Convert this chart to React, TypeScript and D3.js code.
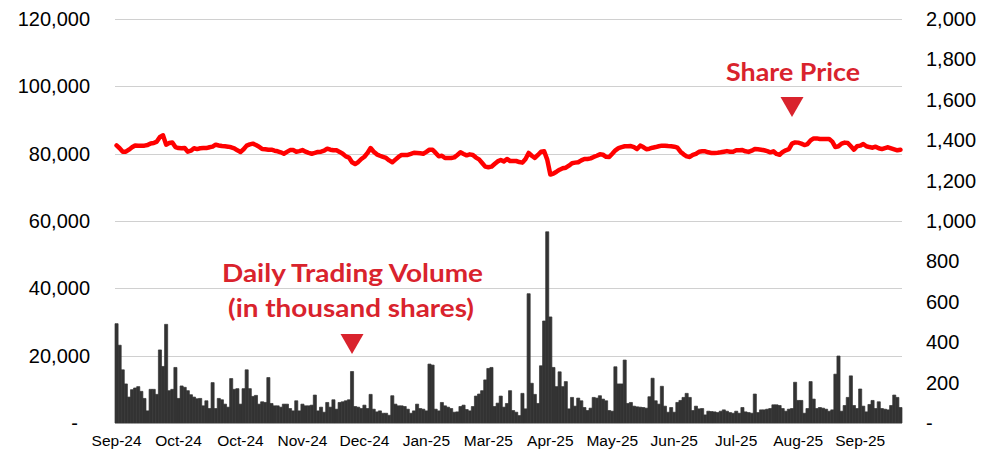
import React from "react";
import * as d3 from "d3";

// daily trading volume, thousand shares (left axis)
const volume: number[] = [
  29.5, 23.1, 15.8, 11.6, 7.7, 9.9, 10.4, 10.8, 9.4, 7.3, 3.6, 10, 10, 8.5, 21.7, 16.8, 29.3, 9.6, 10, 16.5,
  7.3, 11, 10.6, 9.6, 8.4, 7.7, 7.2, 7.3, 5.1, 6.6, 4.3, 12, 4.3, 7.3, 6.9, 5.6, 4.7, 13.2, 10, 10.2,
  5.6, 10.2, 15.8, 10.2, 7.9, 8.2, 5.6, 6.3, 6.1, 13.5, 5.8, 5.1, 5.1, 4.7, 5.6, 5.6, 4.3, 3.6, 6.6, 3.6,
  5.6, 5.1, 5.1,
  5.3, 8.3, 3.6, 4.7, 3.2, 6.1, 4.7, 6.9, 4.1, 6.1, 6.3, 6.6, 6.9, 15.3, 4.9, 4.7, 4.3, 5.3, 4.3, 8.5,
  4.1, 3.3, 3.6, 2.9, 2.9, 2.3, 8.1, 5.6, 5.1, 5.1, 4.9, 4.1, 2.9, 3.6, 5.6, 4.3, 4.1, 3.6, 17.5, 17.2,
  4.1, 3.6, 6.1, 5.1, 4.7, 4.3, 3.2, 3.3, 4.9, 5.3, 4.0, 3.6, 4.9, 8.0, 8.6, 9.6, 12.8, 16.2, 16.5, 4.9,
  5.9, 8.0, 4.7,
  5.8, 9.6, 3.7, 3.2, 2.2, 8.8, 4.2, 38.4, 11.8, 8.5, 5.8, 17, 30.3, 56.8, 31.5, 16.5, 10.8, 15.2, 10.8, 12.3,
  4.2, 7.6, 5, 7.4, 6.6, 4.6, 3.7, 4.4, 7.6, 7.4, 8.1, 7.1, 6.6, 3.7, 3.5, 16.7, 11.6, 11.6, 18.7, 5.8,
  6.1, 5, 4.8, 4.7, 4.6, 4.4, 7.8, 13.3, 6.6, 5.6, 10.9, 5, 3.2, 4.6, 3.2, 6.1, 6.7, 7.6, 8.8, 7.6,
  3.7, 5, 4.2,
  4.3, 2.4, 3.5, 3.4, 3.3, 3.1, 3.5, 3.9, 3.5, 3.1, 2.9, 3.5, 2.9, 4.6, 3.3, 3.1, 2.9, 8.6, 3.1, 3.9,
  3.9, 4.1, 4.3, 5.4, 5.4, 5.2, 4.3, 3.5, 4.1, 4.3, 12.1, 6.7, 6.7, 2.9, 4.3, 12.3, 7.1, 4.3, 4.6, 4.4,
  4.1, 3.5, 3.9, 14.5, 19.9, 3.5, 5.2, 7.6, 14, 5.2, 4.3, 10.1, 5.0, 3.3, 5.5, 6.7, 4.3, 6.3, 4.3, 4.1,
  3.9, 5.2, 8.3, 7.6, 4.6,
];

// share price (right axis)
const price: number[] = [
  1374, 1360, 1343, 1343, 1353, 1365, 1374, 1373, 1373, 1373, 1376, 1384, 1386, 1393, 1416, 1424, 1378, 1386, 1389, 1366,
  1361, 1360, 1361, 1343, 1348, 1360, 1356, 1360, 1361, 1361, 1365, 1368, 1378, 1374, 1371, 1370, 1368, 1365, 1360, 1350,
  1342, 1355, 1373, 1379, 1383, 1376, 1368, 1356, 1355, 1353, 1353, 1348, 1345, 1340, 1333, 1342, 1351, 1351, 1343, 1346,
  1351, 1343, 1337, 1333, 1337, 1342, 1343, 1348, 1358, 1353, 1350, 1350, 1342, 1333, 1320, 1314, 1291, 1282, 1292, 1307,
  1318, 1337, 1361, 1343, 1330, 1323, 1317, 1312, 1300, 1291, 1304, 1317, 1327, 1327, 1327, 1332, 1338, 1337, 1335, 1333,
  1342, 1353, 1353, 1337, 1320, 1323, 1312, 1312, 1312, 1315, 1327, 1340, 1332, 1325, 1330, 1327, 1314, 1305, 1287, 1269,
  1266, 1269, 1282, 1295, 1302, 1295, 1307,
  1297, 1297, 1297, 1292, 1289, 1307, 1337, 1323, 1312, 1327, 1343, 1345, 1304, 1230, 1235, 1244, 1254, 1261, 1264, 1274,
  1286, 1289, 1291, 1300, 1307, 1307, 1310, 1317, 1323, 1330, 1328, 1318, 1317, 1333, 1350, 1361, 1366, 1370, 1370, 1371,
  1366, 1356, 1373, 1366, 1355, 1358, 1363, 1366, 1370, 1373, 1373, 1371, 1370, 1368, 1363, 1343, 1330, 1320, 1317, 1327,
  1332, 1343, 1345, 1345, 1340, 1337, 1337, 1338, 1340, 1343, 1346, 1343, 1343, 1350, 1350, 1351, 1345, 1342, 1348, 1356,
  1355, 1353, 1350, 1346, 1340, 1345, 1332, 1328, 1342, 1350, 1356, 1383, 1389, 1388, 1383, 1376, 1381, 1399, 1409, 1409,
  1406, 1406, 1406, 1406, 1393, 1366, 1370, 1383, 1388, 1386, 1370, 1353, 1370, 1373, 1381, 1370, 1366, 1363, 1368, 1360,
  1356, 1361, 1365, 1360, 1355, 1350, 1353,
];

// tick labels: one every 20 trading days
const xTickLabels = [
  "Sep-24", "Oct-24", "Oct-24", "Nov-24", "Dec-24", "Jan-25", "Mar-25",
  "Apr-25", "May-25", "Jun-25", "Jul-25", "Aug-25", "Sep-25",
];
const labelStep = 20;
const volTicks = [0, 20000, 40000, 60000, 80000, 100000, 120000];
const priceTicks = [0, 200, 400, 600, 800, 1000, 1200, 1400, 1600, 1800, 2000];

const W = 982;
const H = 451;
const plot = { left: 115, right: 902, top: 19, bottom: 423 };
const red = "#D9232D";
const axisFont = "'Liberation Sans', Arial, sans-serif";
const noteFont = "Lato, 'Noto Sans', sans-serif";

export default function App() {
  const days = d3.range(volume.length);

  const x = d3.scaleBand<number>().domain(days).range([plot.left, plot.right]).padding(0);
  const yVol = d3.scaleLinear().domain([0, 120000]).range([plot.bottom, plot.top]);
  const yPrice = d3.scaleLinear().domain([0, 2000]).range([plot.bottom, plot.top]);

  const cx = (i: number) => (x(i) as number) + x.bandwidth() / 2;

  const line = d3
    .line<number>()
    .x((_, i) => cx(i))
    .y((d) => yPrice(d))
    .curve(d3.curveLinear);

  const fmt = d3.format(",");

  const volArrow = 76; // Dec-24 spike
  const priceArrow = 218;

  const tri = (px: number, top: number) =>
    `M${px - 11.5},${top}L${px + 11.5},${top}L${px},${top + 20}Z`;

  return (
    <svg
      width={W}
      height={H}
      style={{ position: "absolute", left: 0, top: 0, background: "#fff" }}
    >
      {/* gridlines */}
      <g>
        {volTicks.map((t) => (
          <line
            key={t}
            x1={plot.left}
            x2={plot.right}
            y1={Math.round(yVol(t)) + 0.5}
            y2={Math.round(yVol(t)) + 0.5}
            stroke="#D0D0D0"
            strokeWidth={1}
          />
        ))}
      </g>

      {/* volume bars */}
      <g fill="#333333" stroke="#333333" strokeWidth={0.7} strokeLinejoin="round">
        {volume.map((v, i) => (
          <rect
            key={i}
            x={x(i)}
            y={yVol(v * 1000)}
            width={x.bandwidth()}
            height={plot.bottom - yVol(v * 1000)}
          />
        ))}
      </g>

      {/* share price line */}
      <path
        d={line(price) || ""}
        fill="none"
        stroke="#FF0000"
        strokeWidth={4.5}
        strokeLinejoin="round"
        strokeLinecap="round"
      />

      {/* left axis */}
      <g fontFamily={axisFont} fontSize={20} fill="#000">
        {volTicks.map((t) => (
          <text
            key={t}
            x={t === 0 ? 78 : 90}
            y={yVol(t)}
            dy="0.35em"
            textAnchor="end"
          >
            {t === 0 ? "-" : fmt(t)}
          </text>
        ))}
      </g>

      {/* right axis */}
      <g fontFamily={axisFont} fontSize={20} fill="#000">
        {priceTicks.map((t) => (
          <text key={t} x={926} y={yPrice(t)} dy="0.35em" textAnchor="start">
            {t === 0 ? "-" : fmt(t)}
          </text>
        ))}
      </g>

      {/* x axis labels */}
      <g fontFamily={axisFont} fontSize={15.5} fill="#000">
        {xTickLabels.map((lab, k) => (
          <text key={k} x={cx(k * labelStep)} y={441} dy="0.35em" textAnchor="middle">
            {lab}
          </text>
        ))}
      </g>

      {/* annotations */}
      <g fontFamily={noteFont} fontWeight="bold" fontSize={24} fill={red}>
        <text x={726} y={81} textLength={134} lengthAdjust="spacingAndGlyphs">
          Share Price
        </text>
        <text x={222} y={282} textLength={261} lengthAdjust="spacingAndGlyphs">
          Daily Trading Volume
        </text>
        <text x={228} y={317} textLength={246} lengthAdjust="spacingAndGlyphs">
          (in thousand shares)
        </text>
      </g>
      <path d={tri(cx(priceArrow), 97)} fill={red} />
      <path d={tri(cx(volArrow), 334)} fill={red} />
    </svg>
  );
}
